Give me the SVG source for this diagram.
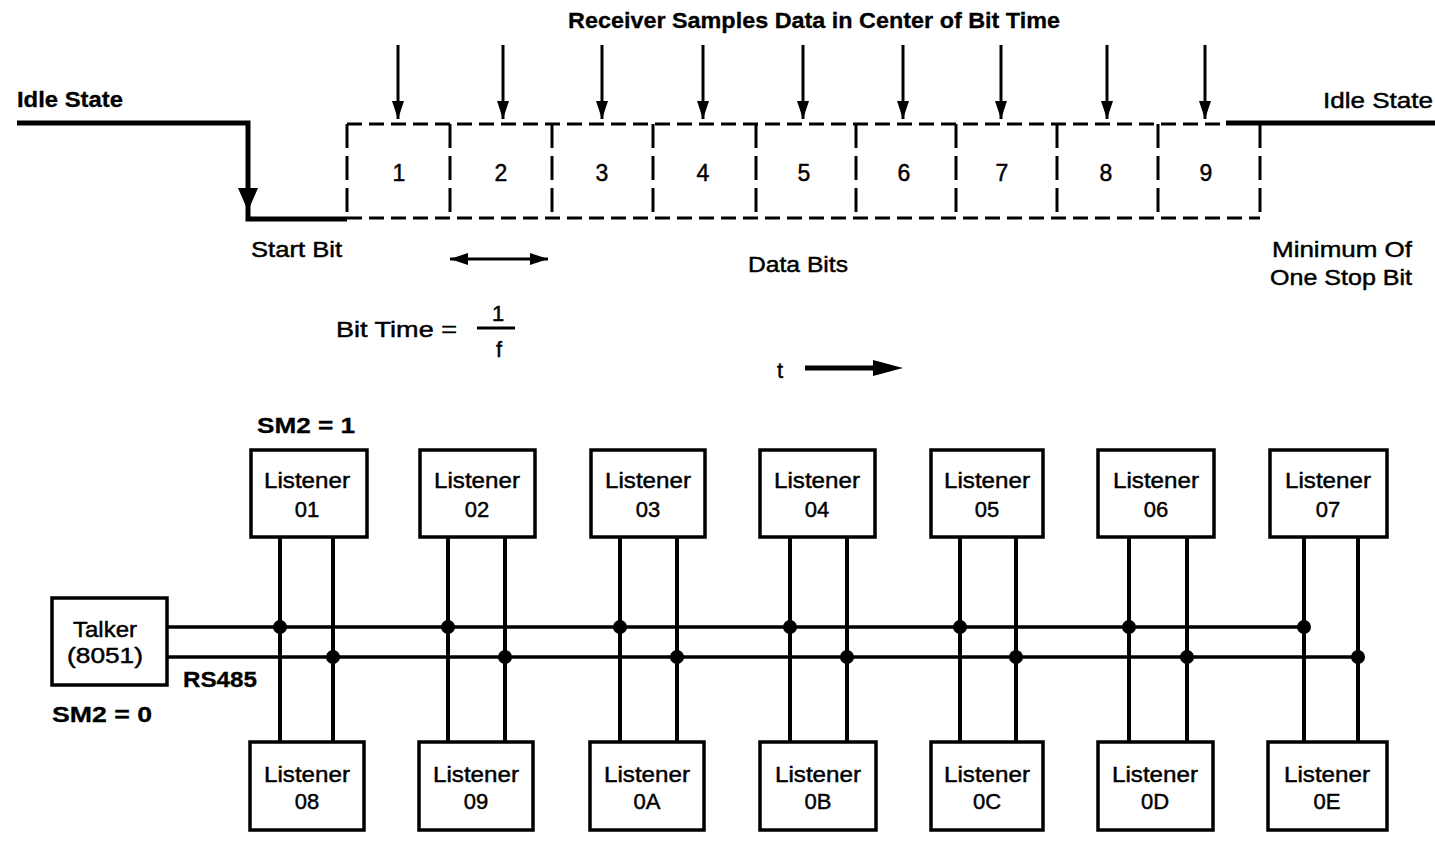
<svg xmlns="http://www.w3.org/2000/svg" width="1435" height="856" viewBox="0 0 1435 856">
<style>
.t{font-family:"Liberation Sans",Arial,sans-serif;font-size:22px;fill:#000;stroke:#000;stroke-width:0.45}
.b{font-weight:bold;stroke-width:0.3}
.m{text-anchor:middle}
.d{font-size:23px}
.box{fill:#fff;stroke:#000;stroke-width:3.5}
.wire{stroke:#000;stroke-width:4;fill:none}
.bus{stroke:#000;stroke-width:3.5;fill:none}
.dh{stroke:#000;stroke-width:3;stroke-dasharray:15 7;fill:none}
.dv{stroke:#000;stroke-width:3;stroke-dasharray:24 8;fill:none}
.sig{stroke:#000;stroke-width:5;fill:none}
.arr{stroke:#000;stroke-width:3;fill:none}
.dot{fill:#000}
</style>
<defs>
<marker id="ah" markerUnits="userSpaceOnUse" markerWidth="20" markerHeight="16" refX="18" refY="7" orient="auto-start-reverse">
<path d="M0,1 L18,7 L0,13 z" fill="#000"/>
</marker>
</defs>

<g id="timing">
<text class="t b" x="568" y="28" textLength="492" lengthAdjust="spacingAndGlyphs">Receiver Samples Data in Center of Bit Time</text>
<text class="t b" x="17" y="107" textLength="106" lengthAdjust="spacingAndGlyphs">Idle State</text>
<text class="t" x="1323" y="108" textLength="110" lengthAdjust="spacingAndGlyphs">Idle State</text>
<path class="sig" d="M17,123 H248 V219 H347"/>
<polygon points="238,188 258,188 248,211" fill="#000"/>
<path class="sig" d="M1226,123 H1435"/>
<path class="dh" d="M347,124 H1226"/>
<path class="dh" d="M347,218 H1260"/>
<path class="dv" d="M347,124 V218 M450,124 V218 M552,124 V218 M653,124 V218 M756,124 V218 M856,124 V218 M956,124 V218 M1057,124 V218 M1158,124 V218 M1260,124 V218"/>
<g class="t m d">
<text x="399" y="181">1</text>
<text x="501" y="181">2</text>
<text x="602" y="181">3</text>
<text x="703" y="181">4</text>
<text x="804" y="181">5</text>
<text x="904" y="181">6</text>
<text x="1002" y="181">7</text>
<text x="1106" y="181">8</text>
<text x="1206" y="181">9</text>
</g>
<g class="arr">
<path d="M398,45 V119" marker-end="url(#ah)"/>
<path d="M503,45 V119" marker-end="url(#ah)"/>
<path d="M602,45 V119" marker-end="url(#ah)"/>
<path d="M703,45 V119" marker-end="url(#ah)"/>
<path d="M803,45 V119" marker-end="url(#ah)"/>
<path d="M903,45 V119" marker-end="url(#ah)"/>
<path d="M1001,45 V119" marker-end="url(#ah)"/>
<path d="M1107,45 V119" marker-end="url(#ah)"/>
<path d="M1205,45 V119" marker-end="url(#ah)"/>
</g>
<text class="t" x="251" y="257" textLength="91" lengthAdjust="spacingAndGlyphs">Start Bit</text>
<path class="arr" d="M450,259 H548" marker-start="url(#ah)" marker-end="url(#ah)"/>
<text class="t" x="748" y="272" textLength="100" lengthAdjust="spacingAndGlyphs">Data Bits</text>
<text class="t" x="1272" y="257" textLength="140" lengthAdjust="spacingAndGlyphs">Minimum Of</text>
<text class="t" x="1270" y="285" textLength="142" lengthAdjust="spacingAndGlyphs">One Stop Bit</text>
<text class="t" x="336" y="337" textLength="121" lengthAdjust="spacingAndGlyphs">Bit Time =</text>
<text class="t m" x="498" y="321">1</text>
<path d="M477,328 H515" stroke="#000" stroke-width="3"/>
<text class="t m" x="499" y="357">f</text>
<text class="t" x="777" y="378">t</text>
<path d="M805,368 H880" stroke="#000" stroke-width="5"/>
<polygon points="873,360 903,368 873,376" fill="#000"/>
</g>

<g id="connectors">
<path class="bus" d="M167,627 H1304"/>
<path class="bus" d="M167,657 H1358"/>
<path class="wire" d="M280,537 V742 M333,537 V742 M448,537 V742 M505,537 V742 M620,537 V742 M677,537 V742 M790,537 V742 M847,537 V742 M960,537 V742 M1016,537 V742 M1129,537 V742 M1187,537 V742 M1304,537 V742 M1358,537 V742"/>
<g class="dot">
<circle cx="280" cy="627" r="7"/><circle cx="333" cy="657" r="7"/>
<circle cx="448" cy="627" r="7"/><circle cx="505" cy="657" r="7"/>
<circle cx="620" cy="627" r="7"/><circle cx="677" cy="657" r="7"/>
<circle cx="790" cy="627" r="7"/><circle cx="847" cy="657" r="7"/>
<circle cx="960" cy="627" r="7"/><circle cx="1016" cy="657" r="7"/>
<circle cx="1129" cy="627" r="7"/><circle cx="1187" cy="657" r="7"/>
<circle cx="1304" cy="627" r="7"/><circle cx="1358" cy="657" r="7"/>
</g>
</g>

<g id="labels">
<text class="t b" x="257" y="433" textLength="98" lengthAdjust="spacingAndGlyphs">SM2 = 1</text>
<text class="t b" x="183" y="687" textLength="74" lengthAdjust="spacingAndGlyphs">RS485</text>
<text class="t b" x="52" y="722" textLength="100" lengthAdjust="spacingAndGlyphs">SM2 = 0</text>
</g>

<g id="talker"><rect class="box" x="52" y="598" width="115" height="87"/><text class="t m" x="105" y="637" textLength="64" lengthAdjust="spacingAndGlyphs">Talker</text><text class="t m" x="105" y="663" textLength="76" lengthAdjust="spacingAndGlyphs">(8051)</text></g>

<g id="listener01"><rect class="box" x="251" y="450" width="116" height="87"/><text class="t m" x="307" y="488" textLength="86" lengthAdjust="spacingAndGlyphs">Listener</text><text class="t m" x="307" y="517">01</text></g>
<g id="listener02"><rect class="box" x="420" y="450" width="115" height="87"/><text class="t m" x="477" y="488" textLength="86" lengthAdjust="spacingAndGlyphs">Listener</text><text class="t m" x="477" y="517">02</text></g>
<g id="listener03"><rect class="box" x="591" y="450" width="114" height="87"/><text class="t m" x="648" y="488" textLength="86" lengthAdjust="spacingAndGlyphs">Listener</text><text class="t m" x="648" y="517">03</text></g>
<g id="listener04"><rect class="box" x="760" y="450" width="115" height="87"/><text class="t m" x="817" y="488" textLength="86" lengthAdjust="spacingAndGlyphs">Listener</text><text class="t m" x="817" y="517">04</text></g>
<g id="listener05"><rect class="box" x="931" y="450" width="112" height="87"/><text class="t m" x="987" y="488" textLength="86" lengthAdjust="spacingAndGlyphs">Listener</text><text class="t m" x="987" y="517">05</text></g>
<g id="listener06"><rect class="box" x="1098" y="450" width="116" height="87"/><text class="t m" x="1156" y="488" textLength="86" lengthAdjust="spacingAndGlyphs">Listener</text><text class="t m" x="1156" y="517">06</text></g>
<g id="listener07"><rect class="box" x="1270" y="450" width="117" height="87"/><text class="t m" x="1328" y="488" textLength="86" lengthAdjust="spacingAndGlyphs">Listener</text><text class="t m" x="1328" y="517">07</text></g>

<g id="listener08"><rect class="box" x="250" y="742" width="114" height="88"/><text class="t m" x="307" y="782" textLength="86" lengthAdjust="spacingAndGlyphs">Listener</text><text class="t m" x="307" y="809">08</text></g>
<g id="listener09"><rect class="box" x="419" y="742" width="114" height="88"/><text class="t m" x="476" y="782" textLength="86" lengthAdjust="spacingAndGlyphs">Listener</text><text class="t m" x="476" y="809">09</text></g>
<g id="listener0A"><rect class="box" x="590" y="742" width="114" height="88"/><text class="t m" x="647" y="782" textLength="86" lengthAdjust="spacingAndGlyphs">Listener</text><text class="t m" x="647" y="809">0A</text></g>
<g id="listener0B"><rect class="box" x="760" y="742" width="116" height="88"/><text class="t m" x="818" y="782" textLength="86" lengthAdjust="spacingAndGlyphs">Listener</text><text class="t m" x="818" y="809">0B</text></g>
<g id="listener0C"><rect class="box" x="931" y="742" width="112" height="88"/><text class="t m" x="987" y="782" textLength="86" lengthAdjust="spacingAndGlyphs">Listener</text><text class="t m" x="987" y="809">0C</text></g>
<g id="listener0D"><rect class="box" x="1098" y="742" width="115" height="88"/><text class="t m" x="1155" y="782" textLength="86" lengthAdjust="spacingAndGlyphs">Listener</text><text class="t m" x="1155" y="809">0D</text></g>
<g id="listener0E"><rect class="box" x="1268" y="742" width="119" height="88"/><text class="t m" x="1327" y="782" textLength="86" lengthAdjust="spacingAndGlyphs">Listener</text><text class="t m" x="1327" y="809">0E</text></g>
</svg>
